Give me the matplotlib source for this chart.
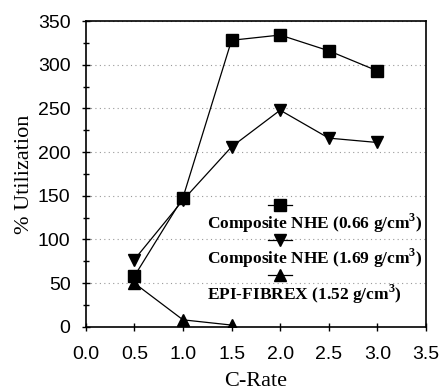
import matplotlib.pyplot as plt
from matplotlib.ticker import MultipleLocator

# data
c_rate = [0.5, 1.0, 1.5, 2.0, 2.5, 3.0]
nhe_066 = [58, 148, 328, 334, 316, 293]
nhe_169 = [77, 145, 206, 248, 216, 211]
fibrex_rate = [0.5, 1.0, 1.5]
fibrex_152 = [50, 8, 2]

labels = [
    "Composite NHE (0.66 g/cm$^3$)",
    "Composite NHE (1.69 g/cm$^3$)",
    "EPI-FIBREX (1.52 g/cm$^3$)",
]
markers = ["s", "v", "^"]

SERIF = "Liberation Serif"
SANS = "Liberation Sans"
plt.rcParams["mathtext.fontset"] = "custom"
plt.rcParams["mathtext.rm"] = SERIF + ":bold"

fig = plt.figure(figsize=(4.4, 3.9), dpi=100)
ax = fig.add_axes([0.195, 0.162, 0.773, 0.784])

series = [(c_rate, nhe_066), (c_rate, nhe_169), (fibrex_rate, fibrex_152)]
for (x, y), m in zip(series, markers):
    ax.plot(x, y, color="black", linewidth=0.9, marker=m, markersize=9,
            markerfacecolor="black", markeredgecolor="black")

ax.set_xlim(0, 3.5)
ax.set_ylim(0, 350)
ax.xaxis.set_major_locator(MultipleLocator(0.5))
ax.yaxis.set_major_locator(MultipleLocator(50))
ax.yaxis.set_minor_locator(MultipleLocator(25))
ax.tick_params(axis="both", which="major", direction="inout", length=6,
               width=1, labelsize=14)
ax.tick_params(axis="x", which="major", pad=11)
ax.tick_params(axis="y", which="major", pad=8)
ax.tick_params(axis="y", which="minor", direction="inout", length=4, width=1)
for lab in ax.get_xticklabels() + ax.get_yticklabels():
    lab.set_fontfamily(SANS)
ax.xaxis.set_major_formatter(plt.FormatStrFormatter("%.1f"))
for s in ax.spines.values():
    s.set_linewidth(1.2)

ax.yaxis.grid(True, which="major", linestyle=(0, (1, 3)), color="#999999",
              linewidth=0.8)
ax.set_axisbelow(True)

ax.set_xlabel("C-Rate", fontfamily=SERIF, fontsize=16, labelpad=6)
ax.set_ylabel("% Utilization", fontfamily=SERIF, fontsize=16, labelpad=3)

# legend: marker above each label
mark_y = [0.399, 0.284, 0.170]
text_y = [0.340, 0.225, 0.105]
for m, lab, my, ty in zip(markers, labels, mark_y, text_y):
    ax.plot([0.535, 0.605], [my, my], transform=ax.transAxes, color="black",
            linewidth=0.9, clip_on=False)
    ax.plot([0.57], [my], transform=ax.transAxes, color="black", marker=m,
            markersize=8.5, linestyle="none", clip_on=False)
    ax.text(0.355, ty, lab, transform=ax.transAxes, fontfamily=SERIF,
            fontsize=12.5, fontweight="bold", va="center", ha="left")

fig.savefig("out.png", dpi=100)
